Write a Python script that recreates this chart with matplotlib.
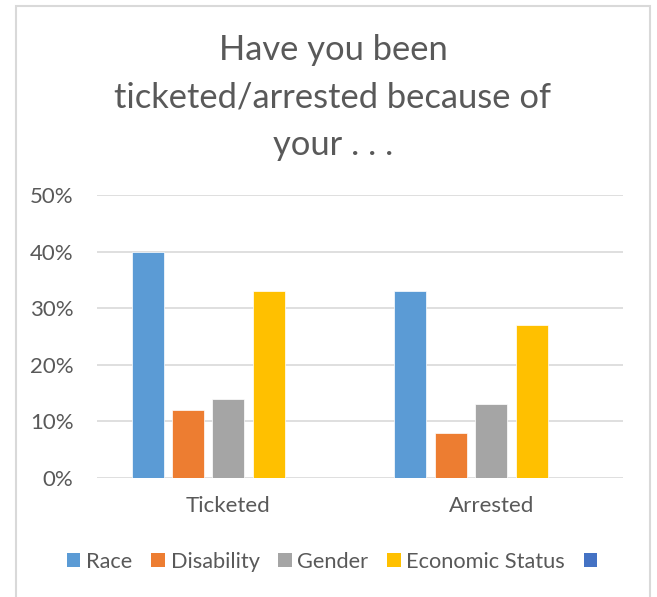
import matplotlib.pyplot as plt
import numpy as np
from matplotlib.patches import Rectangle, Patch

categories = ['Ticketed', 'Arrested']
series_names = ['Race', 'Disability', 'Gender', 'Economic Status', '']
race = [0.40, 0.33]
disability = [0.12, 0.08]
gender = [0.14, 0.13]
economic = [0.33, 0.27]
blank = [0.0, 0.0]
colors = ['#5B9BD5', '#ED7D31', '#A5A5A5', '#FFC000', '#4472C4']
y_ticks = [0, 0.1, 0.2, 0.3, 0.4, 0.5]
y_tick_labels = ['0%', '10%', '20%', '30%', '40%', '50%']

plt.rcParams['font.family'] = ['Lato', 'DejaVu Sans']
text_color = '#595959'

fig = plt.figure(figsize=(6.57, 5.97), dpi=100)
W, H = 657, 597

# chart frame
fig.patches.append(Rectangle((16 / W, -0.01), (650 - 16) / W, 1 - 6 / H + 0.01,
                             transform=fig.transFigure, fill=False,
                             edgecolor='#D9D9D9', linewidth=1.5))

ax = fig.add_axes([97 / W, 1 - 478 / H, (623 - 97) / W, (478 - 195) / H])

x = np.arange(len(categories))
values = [race, disability, gender, economic, blank]
bar_w = 32 / 263
pitch = 40.5 / 263
handles = []
for i, (vals, c) in enumerate(zip(values, colors)):
    offs = (i - 2) * pitch
    ax.bar(x + offs, vals, width=bar_w, color=c, edgecolor='white', linewidth=0.5, zorder=3)
    handles.append(Patch(facecolor=c, edgecolor='none'))

ax.set_xlim(-0.5, 1.5)
ax.set_ylim(0, 0.5)
ax.set_yticks(y_ticks)
ax.set_yticklabels(y_tick_labels)
ax.set_xticks(x)
ax.set_xticklabels(categories)
ax.grid(axis='y', color='#D9D9D9', linewidth=1.2, zorder=0)
for s in ax.spines.values():
    s.set_visible(False)
ax.tick_params(axis='both', length=0, labelsize=16, colors=text_color)
ax.tick_params(axis='y', pad=17)
ax.tick_params(axis='x', pad=13)

fig.text(333 / W, 1 - 34 / H, 'Have you been\nticketed/arrested because of\nyour . . .',
         ha='center', va='top', fontsize=24.8, color=text_color, linespacing=1.6)

fig.legend(handles, series_names, loc='center', bbox_to_anchor=(335 / W, 1 - 562 / H),
           ncol=5, frameon=False, fontsize=15.7, labelcolor=text_color,
           handlelength=0.62, handleheight=0.62, handletextpad=0.27, columnspacing=0.85)

fig.savefig('out.png', dpi=100)
